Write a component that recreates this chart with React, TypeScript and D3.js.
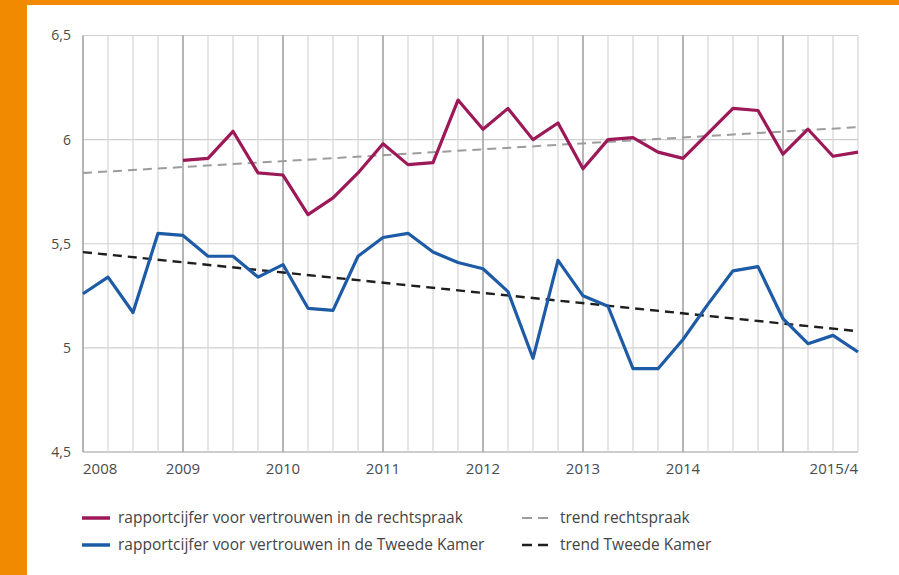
import React from 'react';
import * as d3 from 'd3';

const quarters = [
  '2008-1','2008-2','2008-3','2008-4','2009-1','2009-2','2009-3','2009-4',
  '2010-1','2010-2','2010-3','2010-4','2011-1','2011-2','2011-3','2011-4',
  '2012-1','2012-2','2012-3','2012-4','2013-1','2013-2','2013-3','2013-4',
  '2014-1','2014-2','2014-3','2014-4','2015-1','2015-2','2015-3','2015-4',
];

// rechtspraak starts in 2009 Q1
const rechtspraak: (number | null)[] = [
  null, null, null, null,
  5.90, 5.91, 6.04, 5.84, 5.83, 5.64, 5.72, 5.84,
  5.98, 5.88, 5.89, 6.19, 6.05, 6.15, 6.00, 6.08,
  5.86, 6.00, 6.01, 5.94, 5.91, 6.03, 6.15, 6.14,
  5.93, 6.05, 5.92, 5.94,
];

const tweedeKamer = [
  5.26, 5.34, 5.17, 5.55, 5.54, 5.44, 5.44, 5.34,
  5.40, 5.19, 5.18, 5.44, 5.53, 5.55, 5.46, 5.41,
  5.38, 5.27, 4.95, 5.42, 5.25, 5.20, 4.90, 4.90,
  5.04, 5.21, 5.37, 5.39, 5.14, 5.02, 5.06, 4.98,
];

const trendQuarters = ['2008-1', '2015-4'];
const trendRechtspraak = [5.84, 6.06];
const trendTweedeKamer = [5.46, 5.08];

const yTicks = [4.5, 5, 5.5, 6, 6.5];
const yTickLabels = ['4,5', '5', '5,5', '6', '6,5'];

const xTickQuarters = ['2008-1', '2009-1', '2010-1', '2011-1', '2012-1', '2013-1', '2014-1', '2015-4'];
const xTickLabels = ['2008', '2009', '2010', '2011', '2012', '2013', '2014', '2015/4'];

const legendLabels = [
  'rapportcijfer voor vertrouwen in de rechtspraak',
  'rapportcijfer voor vertrouwen in de Tweede Kamer',
  'trend rechtspraak',
  'trend Tweede Kamer',
];

const W = 899;
const H = 575;
const left = 83;
const right = 858;
const top = 35.5;
const bottom = 452;

const RED = '#9c1857';
const BLUE = '#1d5ba6';
const FONT = '"Open Sans", "DejaVu Sans", sans-serif';

export default function App() {
  const x = d3.scalePoint<string>().domain(quarters).range([left, right]).padding(0);
  const y = d3.scaleLinear().domain([4.5, 6.5]).range([bottom, top]);

  const line = d3
    .line<[string, number | null]>()
    .defined((d) => d[1] !== null)
    .x((d) => x(d[0]) as number)
    .y((d) => y(d[1] as number));

  const redPath = line(quarters.map((q, i) => [q, rechtspraak[i]] as [string, number | null])) || '';
  const bluePath = line(quarters.map((q, i) => [q, tweedeKamer[i]] as [string, number | null])) || '';
  const trendR = line(trendQuarters.map((q, i) => [q, trendRechtspraak[i]] as [string, number | null])) || '';
  const trendT = line(trendQuarters.map((q, i) => [q, trendTweedeKamer[i]] as [string, number | null])) || '';

  return (
    <svg width={W} height={H} style={{ position: 'absolute', left: 0, top: 0 }} fontFamily={FONT}>
      <rect x={0} y={0} width={W} height={H} fill="#f18a00" />
      <rect x={27} y={5} width={W - 27} height={H - 5} fill="#ffffff" />

      {/* horizontal grid */}
      {yTicks.map((t) => (
        <line key={'h' + t} x1={left} x2={right} y1={y(t)} y2={y(t)} stroke={t === 4.5 ? '#9a9a9a' : '#cfcfcf'} strokeWidth={1.2} />
      ))}
      {/* vertical grid */}
      {quarters.map((q) => {
        const isYear = q.endsWith('-1');
        return (
          <line
            key={'v' + q}
            x1={x(q)}
            x2={x(q)}
            y1={top}
            y2={bottom}
            stroke={isYear ? '#a3a3a3' : '#d6d6d6'}
            strokeWidth={isYear ? 1.6 : 1.2}
          />
        );
      })}

      {/* y labels */}
      {yTicks.map((t, i) => (
        <text key={'yl' + t} x={71} y={y(t)} dy="0.35em" textAnchor="end" fontSize={14} fill="#4a4a4a">
          {yTickLabels[i]}
        </text>
      ))}

      {/* x labels */}
      {xTickQuarters.map((q, i) => (
        <text
          key={'xl' + q}
          x={x(q)}
          y={474}
          textAnchor={i === 0 ? 'start' : i === xTickQuarters.length - 1 ? 'end' : 'middle'}
          fontSize={15}
          fill="#4a4a4a"
        >
          {xTickLabels[i]}
        </text>
      ))}

      {/* trends */}
      <path d={trendR} fill="none" stroke="#9c9c9c" strokeWidth={2} strokeDasharray="9 6" />
      <path d={trendT} fill="none" stroke="#1e1e1e" strokeWidth={2.4} strokeDasharray="9 6" />

      {/* series */}
      <path d={redPath} fill="none" stroke={RED} strokeWidth={3.2} strokeLinejoin="round" />
      <path d={bluePath} fill="none" stroke={BLUE} strokeWidth={3.2} strokeLinejoin="round" />

      {/* legend */}
      <g fontSize={15.5} fill="#444">
        <line x1={82} x2={110} y1={518} y2={518} stroke={RED} strokeWidth={3.5} />
        <text x={118} y={518} dy="0.35em">{legendLabels[0]}</text>
        <line x1={82} x2={110} y1={545} y2={545} stroke={BLUE} strokeWidth={3.5} />
        <text x={118} y={545} dy="0.35em">{legendLabels[1]}</text>
        <line x1={522} x2={550} y1={518} y2={518} stroke="#9c9c9c" strokeWidth={2} strokeDasharray="10 6" />
        <text x={560} y={518} dy="0.35em">{legendLabels[2]}</text>
        <line x1={522} x2={550} y1={545} y2={545} stroke="#1e1e1e" strokeWidth={2.6} strokeDasharray="10 6" />
        <text x={560} y={545} dy="0.35em">{legendLabels[3]}</text>
      </g>
    </svg>
  );
}
